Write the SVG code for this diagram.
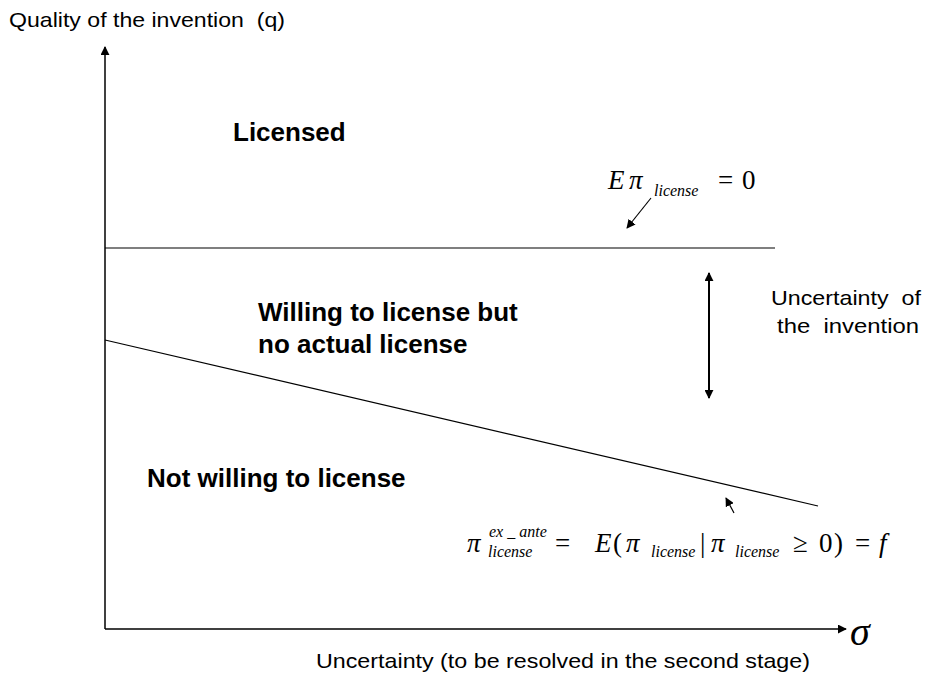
<svg xmlns="http://www.w3.org/2000/svg" width="931" height="673" viewBox="0 0 931 673">
<style>
.s{font-family:"Liberation Sans",Arial,sans-serif;font-size:21px;fill:#000}
.b{font-family:"Liberation Sans",Arial,sans-serif;font-weight:bold;font-size:26px;fill:#000}
.m{font-family:"Liberation Serif","Times New Roman",serif;font-size:27px;fill:#000}
.i{font-style:italic}
.sg{font-size:40px}
.sub{font-family:"Liberation Serif","Times New Roman",serif;font-size:16px;font-style:italic;fill:#000}
.ln{stroke:#000;fill:none}
</style>
<defs>
<marker id="ah" viewBox="0 0 10 10" refX="9" refY="5" markerWidth="9" markerHeight="9" markerUnits="userSpaceOnUse" orient="auto-start-reverse"><path d="M0,0L10,5L0,10z" fill="#000"/></marker>
</defs>
<rect width="931" height="673" fill="#fff"/>
<g id="connectors">
<line class="ln" x1="105" y1="629" x2="105" y2="47" stroke-width="1.5" marker-end="url(#ah)"/>
<line class="ln" x1="105" y1="629" x2="846" y2="629" stroke-width="1.5" marker-end="url(#ah)"/>
<line class="ln" x1="105" y1="248" x2="775" y2="248" stroke-width="1.2"/>
<line class="ln" x1="105" y1="340" x2="818" y2="506" stroke-width="1.2"/>
<line class="ln" x1="709" y1="273" x2="709" y2="398" stroke-width="2" marker-start="url(#ah)" marker-end="url(#ah)"/>
<line class="ln" x1="651" y1="198" x2="627" y2="228" stroke-width="1.2" marker-end="url(#ah)"/>
<line class="ln" x1="734" y1="513" x2="726" y2="498" stroke-width="1.2" marker-end="url(#ah)"/>
</g>
<g id="yaxis-label"><text class="s" x="9" y="27" textLength="276" lengthAdjust="spacingAndGlyphs" xml:space="preserve">Quality of the invention  (q)</text></g>
<g id="xaxis-label"><text class="s" x="316" y="668" textLength="494" lengthAdjust="spacingAndGlyphs">Uncertainty (to be resolved in the second stage)</text></g>
<g id="sigma"><text class="m i sg" x="850" y="645">σ</text></g>
<g id="licensed"><text class="b" x="233" y="141">Licensed</text></g>
<g id="willing"><text class="b" x="258" y="321">Willing to license but</text><text class="b" x="258" y="353">no actual license</text></g>
<g id="not-willing"><text class="b" x="147" y="487">Not willing to license</text></g>
<g id="uncertainty"><text class="s" x="771" y="305" textLength="150" lengthAdjust="spacingAndGlyphs" xml:space="preserve">Uncertainty  of</text><text class="s" x="777" y="333" textLength="142" lengthAdjust="spacingAndGlyphs" xml:space="preserve">the  invention</text></g>
<g id="formula-top">
<text class="m i" x="608" y="189">E</text>
<text class="m i" x="629" y="189">π</text>
<text class="sub" x="654" y="196">license</text>
<text class="m" x="718" y="189">=</text>
<text class="m" x="742" y="189">0</text>
</g>
<g id="formula-bottom">
<text class="m i" x="467" y="552">π</text>
<text class="sub" x="489" y="537" xml:space="preserve">ex _ ante</text>
<text class="sub" x="488" y="557">license</text>
<text class="m" x="555" y="552">=</text>
<text class="m i" x="595" y="552">E</text>
<text class="m" x="613" y="552">(</text>
<text class="m i" x="626" y="552">π</text>
<text class="sub" x="651" y="557">license</text>
<text class="m" x="700" y="552">|</text>
<text class="m i" x="711" y="552">π</text>
<text class="sub" x="735" y="557">license</text>
<text class="m" x="793" y="552">≥</text>
<text class="m" x="819" y="552">0</text>
<text class="m" x="834" y="552">)</text>
<text class="m" x="855" y="552">=</text>
<text class="m i" x="879" y="552">f</text>
</g>
</svg>
